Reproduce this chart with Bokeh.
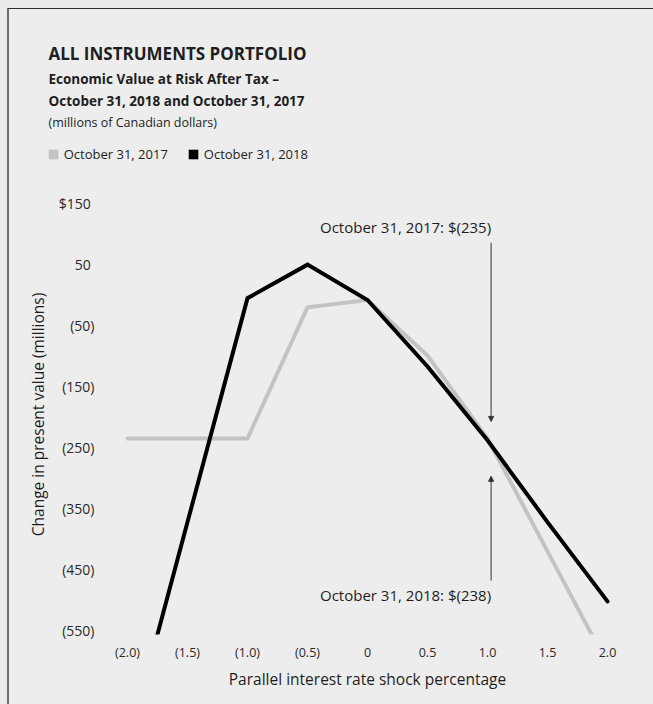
from bokeh.plotting import figure
from bokeh.layouts import column
from bokeh.models import (Range1d, FixedTicker, Label, Arrow, NormalHead,
                          Legend, LegendItem)
from bokeh.embed import file_html
from bokeh.resources import INLINE

# ---------------- data ----------------
shocks = [-2.0, -1.5, -1.0, -0.5, 0.0, 0.5, 1.0, 1.5, 2.0]
evar_2017 = [-235, -235, -235, -20, -8, -99, -235, -420, -605]
evar_2018 = [-740, -372, -5, 50, -8, -117, -238, -372, -502]
series_names = ["October 31, 2017", "October 31, 2018"]

x_ticks = [-2.0, -1.5, -1.0, -0.5, 0.0, 0.5, 1.0, 1.5, 2.0]
x_tick_labels = ["(2.0)", "(1.5)", "(1.0)", "(0.5)", "0", "0.5", "1.0", "1.5", "2.0"]
y_ticks = [150, 50, -50, -150, -250, -350, -450, -550]
y_tick_labels = ["$150\u2008", "50\u2008", "(50)", "(150)", "(250)", "(350)", "(450)", "(550)"]

title_main = "ALL INSTRUMENTS PORTFOLIO"
title_sub1 = "Economic Value at Risk After Tax \u2013"
title_sub2 = "October 31, 2018 and October 31, 2017"
title_units = "(millions of Canadian dollars)"
callout_2017 = "October 31, 2017: $(235)"
callout_2018 = "October 31, 2018: $(238)"
callout_shock = 1.0

# ---------------- styling / layout ----------------
FONT = "Open Sans"
INK = "#1e1e1e"
GREY = "#c3c3c3"
BLACK = "#000000"
BG = "#ededed"

W, H = 644, 695           # total drawing size (inside the box border)
HT = 170                  # height of the heading strip
OX, OY = 9, 9             # page position of the drawing origin
FL, FR, FT, FB = 107, 627, 194, 634   # chart frame edges in page pixels
X0, X1 = -2.1667, 2.1667
Y1 = 165.0
Y0 = Y1 - (FB - FT) / 0.61

# ---------------- heading strip ----------------
top = figure(width=W, height=HT, output_backend="svg", toolbar_location=None,
             x_range=Range1d(0, W), y_range=Range1d(HT, 0),
             x_axis_location=None, y_axis_location=None,
             min_border=0)
top.frame_align = False
top.background_fill_color = BG
top.border_fill_color = BG
top.outline_line_color = None
top.grid.visible = False


def head_text(text, px, py, size, bold=False):
    top.add_layout(Label(x=px - OX, y=py - OY, text=text, text_font=FONT,
                         text_font_size=size, text_color=INK,
                         text_font_style="bold" if bold else "normal",
                         text_align="left", text_baseline="middle"))


head_text(title_main, 48, 53, "17px", bold=True)
head_text(title_sub1, 48, 78, "13.5px", bold=True)
head_text(title_sub2, 48, 100, "13.5px", bold=True)
head_text(title_units, 48, 122, "12.5px")

# legend keys: series drawn as zero-size boxes (outside this strip's range),
# only their legend swatches are visible
q17 = top.quad(left=shocks, right=shocks, top=evar_2017, bottom=evar_2017,
               fill_color=GREY, line_color=None)
q18 = top.quad(left=shocks, right=shocks, top=evar_2018, bottom=evar_2018,
               fill_color=BLACK, line_color=None)
leg_h = 18
legend = Legend(items=[LegendItem(label=series_names[0], renderers=[q17]),
                       LegendItem(label=series_names[1], renderers=[q18])],
                orientation="horizontal",
                location=(46.75 - OX, HT - (154 - OY + leg_h / 2)),
                glyph_width=12, glyph_height=12, label_standoff=5, spacing=19,
                padding=0, margin=0, label_height=leg_h,
                border_line_color=None, background_fill_alpha=0,
                label_text_font=FONT, label_text_font_size="13px",
                label_text_color=INK)
top.add_layout(legend)

# ---------------- chart ----------------
CY = OY + HT
p = figure(width=W, height=H - HT, output_backend="svg", toolbar_location=None,
           x_range=Range1d(X0, X1), y_range=Range1d(Y0, Y1),
           min_border_left=FL - OX, min_border_right=W - (FR - OX),
           min_border_top=FT - CY, min_border_bottom=(H - HT) - (FB - CY))
p.frame_align = False
p.background_fill_color = BG
p.border_fill_color = BG
p.outline_line_color = None
p.xgrid.visible = False
p.ygrid.visible = False

r17 = p.line(shocks, evar_2017, line_color=GREY, line_width=4,
             line_cap="round", line_join="miter")
r18 = p.line(shocks, evar_2018, line_color=BLACK, line_width=4,
             line_cap="round", line_join="miter")

for ax in (p.xaxis[0], p.yaxis[0]):
    ax.axis_line_color = None
    ax.major_tick_line_color = None
    ax.minor_tick_line_color = None
    ax.major_label_text_font = FONT
    ax.major_label_text_color = "#2a2a2a"
    ax.axis_label_text_font = FONT
    ax.axis_label_text_font_style = "normal"
    ax.axis_label_text_font_size = "15.5px"
    ax.axis_label_text_color = INK

xa = p.xaxis[0]
xa.ticker = FixedTicker(ticks=x_ticks)
xa.major_label_overrides = dict(zip(x_ticks, x_tick_labels))
xa.major_label_text_font_size = "12.5px"
xa.major_label_standoff = 3
xa.axis_label = "Parallel interest rate shock percentage"
xa.axis_label_standoff = 4

ya = p.yaxis[0]
ya.ticker = FixedTicker(ticks=y_ticks)
ya.major_label_overrides = dict(zip(y_ticks, y_tick_labels))
ya.major_label_text_font_size = "14px"
ya.major_label_standoff = 7
ya.axis_label = "Change in present value (millions)"
ya.axis_label_standoff = 7

# callouts at the +1.0 shock
ax_x = callout_shock + 0.03
v17 = evar_2017[shocks.index(callout_shock)]
v18 = evar_2018[shocks.index(callout_shock)]
for (ys, ye) in [(v17 + 321, v17 + 28), (v18 - 230, v18 - 59)]:
    p.add_layout(Arrow(end=NormalHead(size=5, fill_color="#333333",
                                      line_color="#333333", line_width=1),
                       x_start=ax_x, y_start=ys, x_end=ax_x, y_end=ye,
                       line_color="#333333", line_width=1))
p.add_layout(Label(x=ax_x, y=v17 + 346, text=callout_2017, text_font=FONT,
                   text_font_size="15px", text_color=INK,
                   text_align="right", text_baseline="middle"))
p.add_layout(Label(x=ax_x, y=v18 - 254, text=callout_2018, text_font=FONT,
                   text_font_size="15px", text_color=INK,
                   text_align="right", text_baseline="middle"))

page = column(top, p, spacing=0)
page.styles = {"margin-left": "7px", "margin-top": "8px",
               "border-left": "2px solid #6e6e6e",
               "border-top": "1px solid #2b2b2b",
               "background-color": BG,
               "box-shadow": "0 0 0 24px #ebebeb"}

open("out.html", "w").write(file_html(page, INLINE))
